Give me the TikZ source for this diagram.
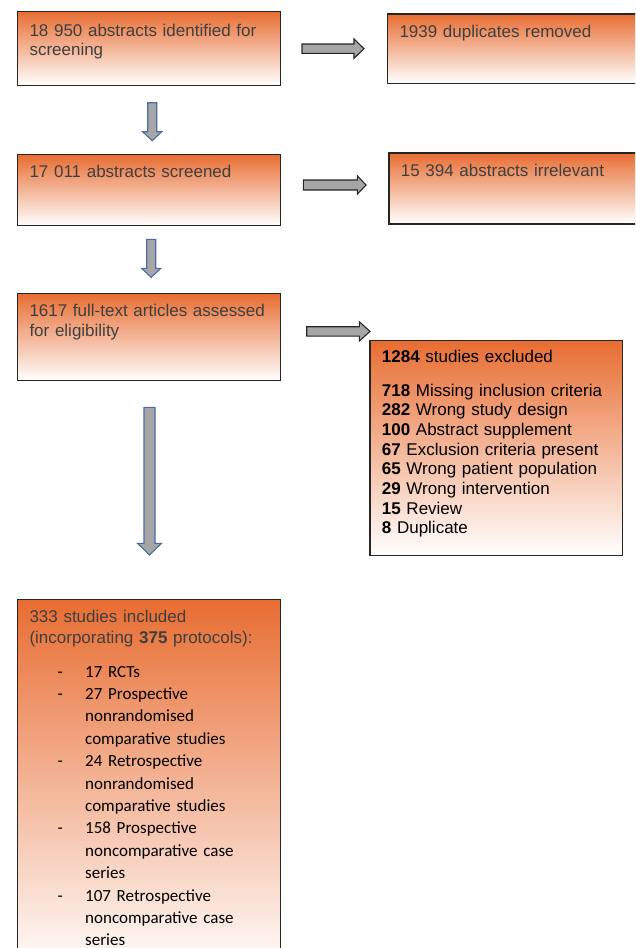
\documentclass[tikz,border=0pt]{standalone}
\usepackage{fontspec}
\setmainfont{Liberation Sans}
\newfontfamily\calfont{Carlito}
\definecolor{boxor}{HTML}{E86D32}
\definecolor{hdrgray}{HTML}{3F3F3F}
\definecolor{arrgray}{HTML}{A6A6A6}
\definecolor{arrblue}{HTML}{4A6BA3}
\definecolor{edge}{HTML}{262626}
\begin{document}
\begin{tikzpicture}[x=1pt,y=-1pt,
  box/.style={draw=edge, line width=1.3pt, rectangle, inner sep=0pt, anchor=north west,
    top color=boxor, middle color=boxor!58!white, bottom color=white},
  txt/.style={anchor=base west, inner sep=0pt, text width=#1, align=left,
    font=\fontsize{17}{19.7}\selectfont, text=hdrgray},
  txt/.default=250pt,
  rarr/.style={draw=edge, fill=arrgray, line width=1.1pt, line join=miter},
  darr/.style={draw=arrblue, fill=arrgray, line width=1.1pt, line join=miter},
  dashnode/.style={anchor=base west, inner sep=0pt, font=\calfont\fontsize{17}{22.4}\selectfont}
]
\useasboundingbox (0,0) rectangle (635,948);
\clip (0,0) rectangle (635,948);

% boxes
\node[box, minimum width=263.3pt, minimum height=74.3pt] (b1) at (16.7,10.7) {};
\node[box, minimum width=273.3pt, minimum height=69.4pt] (b2) at (386.7,13.3) {};
\node[box, minimum width=263.3pt, minimum height=71pt] (b3) at (16.7,154) {};
\node[box, minimum width=271.7pt, minimum height=71pt] (b4) at (388.3,152.3) {};
\node[box, minimum width=263.3pt, minimum height=87.3pt] (b5) at (16.7,292.7) {};
\node[box, minimum width=252.7pt, minimum height=215pt] (b6) at (369.3,340) {};
\node[box, minimum width=263.3pt, minimum height=376pt] (b7) at (16.7,599) {};

% texts
\node[txt] (t1) at (29.3,36) {18 950 abstracts identified for\\screening};
\node[txt] (t2) at (399.3,37.5) {1939 duplicates removed};
\node[txt] (t3) at (29.3,177.5) {17 011 abstracts screened};
\node[txt] (t4) at (400.7,176.5) {15 394 abstracts irrelevant};
\node[txt] (t5) at (29.3,316.5) {1617 full-text articles assessed\\for eligibility};
\node[txt, text=black] (t6) at (381.7,362.5) {\textbf{1284} studies excluded\\[13.8pt]
\textbf{718} Missing inclusion criteria\\
\textbf{282} Wrong study design\\
\textbf{100} Abstract supplement\\
\textbf{67} Exclusion criteria present\\
\textbf{65} Wrong patient population\\
\textbf{29} Wrong intervention\\
\textbf{15} Review\\
\textbf{8} Duplicate};
\node[txt, font=\fontsize{17}{21.5}\selectfont] (t7) at (29.3,622) {333 studies included\\(incorporating \textbf{375} protocols):};
\node[dashnode, text width=200pt, align=left] (t8) at (85,677) {17 RCTs\\
27 Prospective\\
nonrandomised\\
comparative studies\\
24 Retrospective\\
nonrandomised\\
comparative studies\\
158 Prospective\\
noncomparative case\\
series\\
107 Retrospective\\
noncomparative case\\
series};
\foreach \k [count=\i] in {0,1,4,7,10} {
  \node[dashnode] (d\i) at (57.5,677+22.4*\k) {-};
}

% right arrows
\draw[rarr] (302,44) -- (354,44) -- (354,39) -- (364,48.7) -- (354,58.4) -- (354,53.4) -- (302,53.4) -- cycle;
\draw[rarr] (303.3,180) -- (357.3,180) -- (357.3,175.8) -- (366,185) -- (357.3,194.2) -- (357.3,190) -- (303.3,190) -- cycle;
\draw[rarr] (306.7,326.7) -- (359.3,326.7) -- (359.3,321.7) -- (370,331.4) -- (359.3,341.1) -- (359.3,336.1) -- (306.7,336.1) -- cycle;

% down arrows
\draw[darr] (147.7,102.7) -- (156.7,102.7) -- (156.7,131.7) -- (161.8,131.7) -- (152.2,140.7) -- (142.6,131.7) -- (147.7,131.7) -- cycle;
\draw[darr] (146.7,239.3) -- (155.7,239.3) -- (155.7,268.3) -- (160.9,268.3) -- (151.2,277.3) -- (141.5,268.3) -- (146.7,268.3) -- cycle;
\draw[darr] (144,407.3) -- (155,407.3) -- (155,543.3) -- (161.5,543.3) -- (149.5,555) -- (137.5,543.3) -- (144,543.3) -- cycle;
\end{tikzpicture}
\end{document}
